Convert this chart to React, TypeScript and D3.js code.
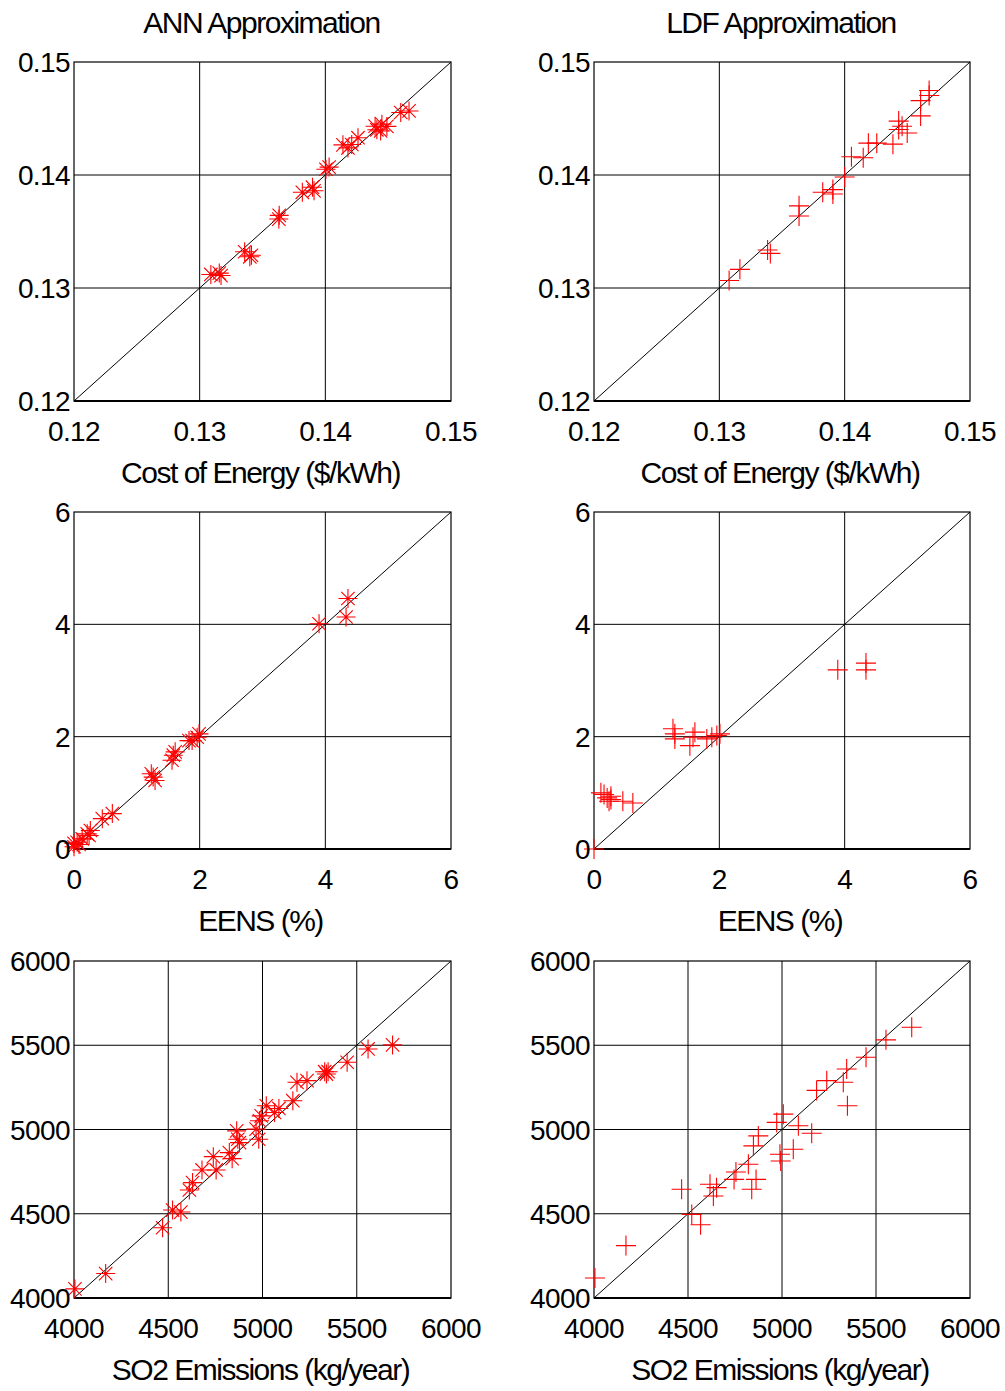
import React from "react";
import * as d3 from "d3";

// ---------- data ----------
const COE_TICKS = [0.12, 0.13, 0.14, 0.15];
const EENS_TICKS = [0, 2, 4, 6];
const SO2_TICKS = [4000, 4500, 5000, 5500, 6000];

const COE_ANN_X = [0.13089, 0.13156, 0.1317, 0.13358, 0.13399, 0.13412, 0.13633, 0.1363, 0.13817, 0.13898, 0.1391, 0.14005, 0.1403, 0.1414, 0.1418, 0.1421, 0.1426, 0.14396, 0.1441, 0.1445, 0.1449, 0.1444, 0.146, 0.14666];
const COE_ANN_Y = [0.1312, 0.13132, 0.1311, 0.13321, 0.13276, 0.1329, 0.13643, 0.1361, 0.13847, 0.13892, 0.1386, 0.14051, 0.1407, 0.14267, 0.1424, 0.1427, 0.1433, 0.14432, 0.144, 0.1445, 0.1443, 0.1439, 0.14553, 0.14567];

const COE_LDF_X = [0.13078, 0.13164, 0.13385, 0.13407, 0.13636, 0.13636, 0.13825, 0.13906, 0.13906, 0.14, 0.14054, 0.14148, 0.14189, 0.14256, 0.14385, 0.14431, 0.14458, 0.14499, 0.14431, 0.14606, 0.14606, 0.14674, 0.14674];
const COE_LDF_Y = [0.13066, 0.13165, 0.13336, 0.13306, 0.13637, 0.13727, 0.13847, 0.13871, 0.13832, 0.13982, 0.14162, 0.14153, 0.14282, 0.14282, 0.14273, 0.14477, 0.14432, 0.14372, 0.14402, 0.14523, 0.14658, 0.14748, 0.14703];

const EENS_ANN_X = [0.0, 0.0, 0.05, 0.13, 0.21, 0.26, 0.24, 0.08, 0.45, 0.61, 1.23, 1.29, 1.26, 1.56, 1.61, 1.58, 1.83, 1.88, 1.99, 1.96, 3.9, 4.36, 4.33];
const EENS_ANN_Y = [0.1, 0.04, 0.12, 0.18, 0.27, 0.33, 0.24, 0.08, 0.54, 0.63, 1.34, 1.22, 1.28, 1.58, 1.73, 1.67, 1.93, 1.93, 2.05, 1.99, 4.01, 4.46, 4.13];

const EENS_LDF_X = [0.0, 0.11, 0.16, 0.21, 0.24, 0.27, 0.27, 0.46, 0.62, 1.26, 1.29, 1.29, 1.53, 1.58, 1.61, 1.8, 1.88, 1.96, 2.01, 3.89, 4.34, 4.34];
const EENS_LDF_Y = [0.0, 1.0, 0.97, 0.91, 0.85, 0.88, 0.94, 0.85, 0.82, 2.14, 2.05, 1.96, 1.84, 1.99, 2.08, 1.96, 1.99, 2.02, 2.05, 3.19, 3.19, 3.31];

const SO2_ANN_X = [4005, 4168, 4470, 4523, 4567, 4612, 4629, 4679, 4754, 4739, 4824, 4839, 4869, 4863, 4878, 4966, 4980, 4984, 4993, 5020, 5064, 5087, 5161, 5183, 5236, 5330, 5348, 5339, 5449, 5560, 5690];
const SO2_ANN_Y = [4054, 4145, 4417, 4522, 4510, 4641, 4685, 4760, 4760, 4839, 4863, 4827, 4942, 4992, 4922, 5002, 4942, 5052, 5081, 5141, 5101, 5125, 5171, 5280, 5290, 5343, 5343, 5329, 5399, 5478, 5502];

const SO2_LDF_X = [4005, 4170, 4466, 4520, 4567, 4617, 4635, 4652, 4745, 4755, 4821, 4848, 4862, 4839, 4874, 4972, 4989, 4993, 5007, 5087, 5060, 5158, 5184, 5238, 5344, 5326, 5348, 5447, 5553, 5690];
const SO2_LDF_Y = [4119, 4311, 4645, 4496, 4435, 4675, 4605, 4655, 4704, 4748, 4794, 4903, 4704, 4645, 4962, 5042, 4853, 4813, 5091, 5022, 4883, 4978, 5232, 5290, 5359, 5280, 5141, 5429, 5532, 5607];

const TITLES = ["ANN Approximation", "LDF Approximation"];
const X_LABELS = ["Cost of Energy ($/kWh)", "EENS (%)", "SO2 Emissions (kg/year)"];

// ---------- layout ----------
const W = 1005;
const H = 1391;
const COL_L = [74, 594];
const COL_R = [451, 970];
const ROW_T = [62, 512, 961];
const ROW_B = [401, 849, 1298];
const FONT = "Arial, 'Liberation Sans', Helvetica, sans-serif";

type PanelDef = {
  row: number;
  col: number;
  ticks: number[];
  fmt: (v: number) => string;
  xs: number[];
  ys: number[];
  marker: "star" | "plus";
};

const fmtCoe = (v: number) => v.toFixed(2);
const fmtInt = (v: number) => String(v);

const PANELS: PanelDef[] = [
  { row: 0, col: 0, ticks: COE_TICKS, fmt: fmtCoe, xs: COE_ANN_X, ys: COE_ANN_Y, marker: "star" },
  { row: 0, col: 1, ticks: COE_TICKS, fmt: fmtCoe, xs: COE_LDF_X, ys: COE_LDF_Y, marker: "plus" },
  { row: 1, col: 0, ticks: EENS_TICKS, fmt: fmtInt, xs: EENS_ANN_X, ys: EENS_ANN_Y, marker: "star" },
  { row: 1, col: 1, ticks: EENS_TICKS, fmt: fmtInt, xs: EENS_LDF_X, ys: EENS_LDF_Y, marker: "plus" },
  { row: 2, col: 0, ticks: SO2_TICKS, fmt: fmtInt, xs: SO2_ANN_X, ys: SO2_ANN_Y, marker: "star" },
  { row: 2, col: 1, ticks: SO2_TICKS, fmt: fmtInt, xs: SO2_LDF_X, ys: SO2_LDF_Y, marker: "plus" },
];

function markerPath(kind: "star" | "plus", cx: number, cy: number): string {
  const p = d3.path();
  if (kind === "plus") {
    const r = 10;
    p.moveTo(cx - r, cy); p.lineTo(cx + r, cy);
    p.moveTo(cx, cy - r); p.lineTo(cx, cy + r);
  } else {
    const r = 9.5;
    const d = 6.7;
    p.moveTo(cx - r, cy); p.lineTo(cx + r, cy);
    p.moveTo(cx, cy - r); p.lineTo(cx, cy + r);
    p.moveTo(cx - d, cy - d); p.lineTo(cx + d, cy + d);
    p.moveTo(cx - d, cy + d); p.lineTo(cx + d, cy - d);
  }
  return p.toString();
}

function Panel({ def }: { def: PanelDef }) {
  const x0 = COL_L[def.col], x1 = COL_R[def.col];
  const y0 = ROW_T[def.row], y1 = ROW_B[def.row];
  const dom = d3.extent(def.ticks) as [number, number];
  const xs = d3.scaleLinear().domain(dom).range([x0, x1]);
  const ys = d3.scaleLinear().domain(dom).range([y1, y0]);
  const diag = d3.line<number>().x((v) => xs(v)).y((v) => ys(v))(dom) || "";
  const cx = (x0 + x1) / 2;
  return (
    <g>
      {def.row === 0 && (
        <text x={cx - 1} y={33} textAnchor="middle" fontSize={30} letterSpacing={-1.5} fontFamily={FONT}>
          {TITLES[def.col]}
        </text>
      )}
      {/* grid */}
      {def.ticks.slice(1, -1).map((t) => (
        <g key={"g" + t}>
          <line x1={xs(t)} x2={xs(t)} y1={y0} y2={y1} stroke="#000" strokeWidth={1} />
          <line x1={x0} x2={x1} y1={ys(t)} y2={ys(t)} stroke="#000" strokeWidth={1} />
        </g>
      ))}
      <rect x={x0} y={y0} width={x1 - x0} height={y1 - y0} fill="none" stroke="#000" strokeWidth={1.2} />
      <line x1={x0} x2={x1} y1={y1} y2={y1} stroke="#000" strokeWidth={2} />
      {/* diagonal */}
      <path d={diag} stroke="#000" strokeWidth={1} fill="none" />
      {/* markers */}
      {def.xs.map((v, i) => (
        <path key={i} d={markerPath(def.marker, xs(v), ys(def.ys[i]))} stroke="#ff0000" strokeWidth={1.1} fill="none" />
      ))}
      {/* tick labels */}
      {def.ticks.map((t) => (
        <text key={"x" + t} x={xs(t)} y={y1 + 40} textAnchor="middle" fontSize={28} letterSpacing={-0.6} fontFamily={FONT}>
          {def.fmt(t)}
        </text>
      ))}
      {def.ticks.map((t) => (
        <text key={"y" + t} x={x0 - 4} y={ys(t) + 10} textAnchor="end" fontSize={28} letterSpacing={-0.6} fontFamily={FONT}>
          {def.fmt(t)}
        </text>
      ))}
      <text x={cx - 2} y={y1 + 82} textAnchor="middle" fontSize={30} letterSpacing={-1.5} fontFamily={FONT}>
        {X_LABELS[def.row]}
      </text>
    </g>
  );
}

export default function App() {
  return (
    <svg
      width={W}
      height={H}
      viewBox={`0 0 ${W} ${H}`}
      style={{ position: "absolute", left: 0, top: 0, background: "#fff" }}
    >
      <rect x={0} y={0} width={W} height={H} fill="#fff" />
      {PANELS.map((p, i) => (
        <Panel key={i} def={p} />
      ))}
    </svg>
  );
}
